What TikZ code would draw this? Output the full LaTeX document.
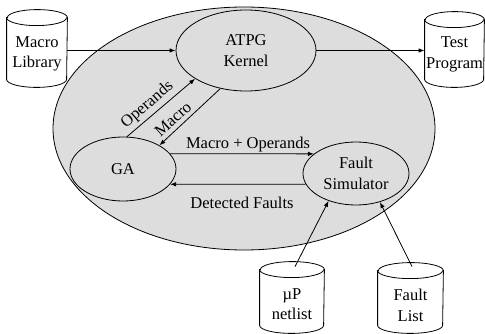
\documentclass[tikz,border=0pt]{standalone}
\usepackage{fontspec}
\setmainfont{Liberation Serif}
\usetikzlibrary{shapes.geometric,arrows.meta,calc}
\definecolor{shade}{RGB}{221,221,221}
\newcommand{\drawcyl}[3]{%
  \draw[fill=white] ($(#1.north west)+(0,#3)$) -- ($(#1.south west)+(0,-#3)$)
    arc[start angle=180,end angle=360,x radius=#2pt,y radius=#3pt]
    -- ($(#1.north east)+(0,#3)$)
    arc[start angle=0,end angle=180,x radius=#2pt,y radius=#3pt] -- cycle;
  \draw ($(#1.north west)+(0,#3)$) arc[start angle=180,end angle=360,x radius=#2pt,y radius=#3pt];
}
\begin{document}
\begin{tikzpicture}[x=1pt,y=-1pt,line width=0.8pt,
  font=\fontsize{16.5}{20.5}\selectfont,
  oval/.style={ellipse, draw, fill=shade, inner sep=0pt, align=center},
  cylbox/.style={rectangle, draw=none, inner sep=0pt},
  cyltext/.style={align=center, inner sep=0pt},
  lbl/.style={inner sep=0pt},
  arr/.style={-{Latex[length=6pt,width=4.5pt]}}]
\useasboundingbox (0,0) rectangle (485,334);
% system ellipse
\node[ellipse, draw, fill=shade, inner sep=0pt, minimum width=382, minimum height=243] (sys) at (244,128.5) {};
% cylinders
\node[cylbox, minimum width=60, minimum height=77] (ml) at (37,48.5) {};
\node[cylbox, minimum width=59, minimum height=75] (tp) at (454.5,49.5) {};
\node[cylbox, minimum width=64, minimum height=71] (up) at (292,297.5) {};
\node[cylbox, minimum width=65, minimum height=70] (fl) at (410.5,298) {};
\drawcyl{ml}{30}{8}
\drawcyl{tp}{29.5}{8}
\drawcyl{up}{32}{8}
\drawcyl{fl}{32.5}{8}
\node[cyltext] (mlt) at ($(ml.center)+(0,5.5)$) {Macro\\Library};
\node[cyltext] (tpt) at ($(tp.center)+(0,5)$) {Test\\Program};
\node[cyltext] (upt) at ($(up.center)+(0,6.5)$) {µP\\netlist};
\node[cyltext] (flt) at ($(fl.center)+(0,7.5)$) {Fault\\List};
% inner ellipses
\node[oval, minimum width=140, minimum height=81] (atpg) at (246,50.5) {ATPG\\Kernel};
\node[oval, minimum width=106, minimum height=64] (ga) at (123,169) {GA};
\node[oval, minimum width=106, minimum height=63] (fs) at (356,173.5) {Fault\\Simulator};
% connectors
\draw[arr] (ml.east |- atpg.west) -- (atpg.west);
\draw[arr] (atpg.east) -- (atpg.east -| tp.west);
\draw[arr] (ga.83) -- (atpg.209);
\draw[arr] (atpg.236) -- (ga.33);
\draw[arr] (ga.18) -- (fs.155);
\draw[arr] (fs.192) -- (ga.342);
\draw[arr] ($(up.north)+(3,5)$) -- (fs.225);
\draw[arr] ($(fl.north)+(1.5,4)$) -- (fs.310);
% labels
\node[lbl, rotate=41] (lop) at (147.5,105) {Operands};
\node[lbl, rotate=42] (lma) at (173,119) {Macro};
\node[lbl] (lmo) at (248,145) {Macro + Operands};
\node[lbl] (ldf) at (242,203) {Detected Faults};
\end{tikzpicture}
\end{document}
